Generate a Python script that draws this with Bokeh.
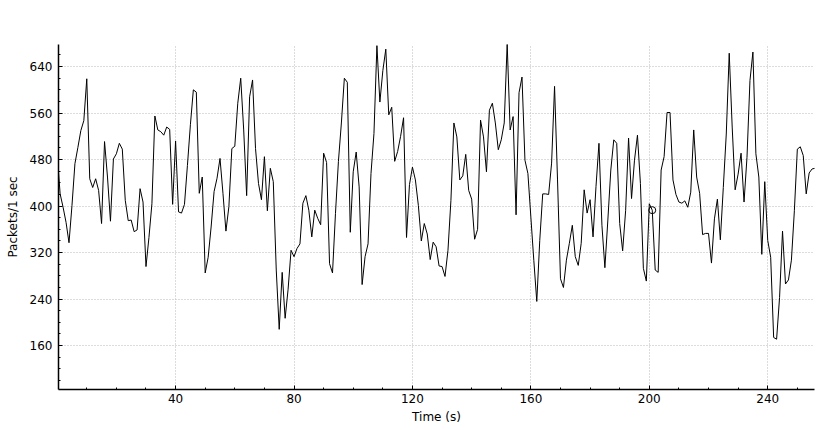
from bokeh.plotting import figure
from bokeh.models import FixedTicker, Range1d
from bokeh.embed import file_html
from bokeh.resources import INLINE

packets = [
    490, 421, 398, 372, 337, 401, 473, 501, 530, 547,
    619, 447, 432, 447, 427, 370, 511, 450, 374, 481,
    490, 508, 498, 410, 375, 376, 356, 359, 430, 407,
    296, 346, 404, 555, 531, 528, 522, 536, 532, 403,
    512, 390, 388, 403, 470, 540, 600, 596, 422, 450,
    285, 312, 364, 425, 448, 482, 422, 357, 399, 499,
    503, 577, 620, 531, 418, 588, 617, 499, 439, 411,
    485, 392, 465, 442, 290, 188, 286, 207, 257, 324,
    313, 327, 335, 405, 418, 393, 347, 393, 379, 368,
    491, 475, 301, 285, 387, 477, 543, 620, 613, 355,
    459, 493, 433, 265, 313, 335, 456, 525, 676, 579,
    633, 670, 557, 570, 477, 494, 520, 552, 346, 437,
    467, 445, 401, 340, 370, 352, 308, 338, 330, 297,
    296, 279, 324, 410, 543, 519, 445, 452, 489, 427,
    412, 343, 360, 548, 519, 459, 565, 577, 543, 497,
    514, 543, 679, 531, 554, 385, 595, 622, 479, 456,
    381, 306, 236, 341, 421, 421, 420, 474, 606, 445,
    275, 260, 307, 336, 367, 313, 298, 336, 428, 388,
    411, 347, 434, 508, 367, 294, 376, 462, 514, 508,
    370, 323, 392, 517, 413, 479, 522, 439, 293, 271,
    404, 393, 290, 286, 462, 485, 561, 561, 445, 420,
    407, 405, 409, 398, 424, 531, 450, 422, 351, 353,
    353, 302, 378, 412, 342, 432, 524, 663, 536, 428,
    455, 491, 407, 484, 616, 665, 490, 450, 317, 442,
    341, 312, 174, 171, 243, 357, 266, 273, 307, 392,
    498, 502, 487, 421, 457, 464, 465,
]
time_s = list(range(len(packets)))

marker_time = [201]
marker_value = [393]

x_major = [40, 80, 120, 160, 200, 240]
x_minor = [t for t in range(0, 260, 10)]
y_major = [160, 240, 320, 400, 480, 560, 640]
y_minor = [v for v in range(80, 700, 20)]

FONT = "DejaVu Sans"

p = figure(width=828, height=430, output_backend="svg", toolbar_location=None,
           x_range=Range1d(0.45, 255.8), y_range=Range1d(84.5, 678))
p.min_border_left = 58
p.min_border_right = 14
p.min_border_top = 44
p.min_border_bottom = 41
p.outline_line_color = None
p.background_fill_color = "white"
p.border_fill_color = "white"

p.line(time_s, packets, line_color="black", line_width=1)
p.scatter(marker_time, marker_value, marker="circle", size=7,
          line_color="black", fill_color=None, line_width=1)

p.xaxis.ticker = FixedTicker(ticks=x_major, minor_ticks=x_minor)
p.yaxis.ticker = FixedTicker(ticks=y_major, minor_ticks=y_minor)

for ax in (p.xaxis[0], p.yaxis[0]):
    ax.axis_line_color = "black"
    ax.axis_line_width = 1.5
    ax.major_tick_in = 4
    ax.major_tick_out = 0
    ax.minor_tick_in = 2
    ax.minor_tick_out = 0
    ax.major_tick_line_color = "black"
    ax.minor_tick_line_color = "black"
    ax.major_label_text_font = FONT
    ax.major_label_text_font_size = "12px"
    ax.major_label_text_color = "black"
    ax.axis_label_text_font = FONT
    ax.axis_label_text_font_size = "12px"
    ax.axis_label_text_font_style = "normal"
    ax.axis_label_text_color = "black"

p.xaxis.axis_label = "Time (s)"
p.yaxis.axis_label = "Packets/1 sec"
p.xaxis.major_label_standoff = 4
p.yaxis.major_label_standoff = 6
p.xaxis.axis_label_standoff = 4
p.yaxis.axis_label_standoff = 7

for g in (p.xgrid[0], p.ygrid[0]):
    g.grid_line_color = "#b8b8b8"
    g.grid_line_dash = "1 2"
    g.grid_line_width = 1

open("out.html", "w").write(file_html(p, INLINE))
